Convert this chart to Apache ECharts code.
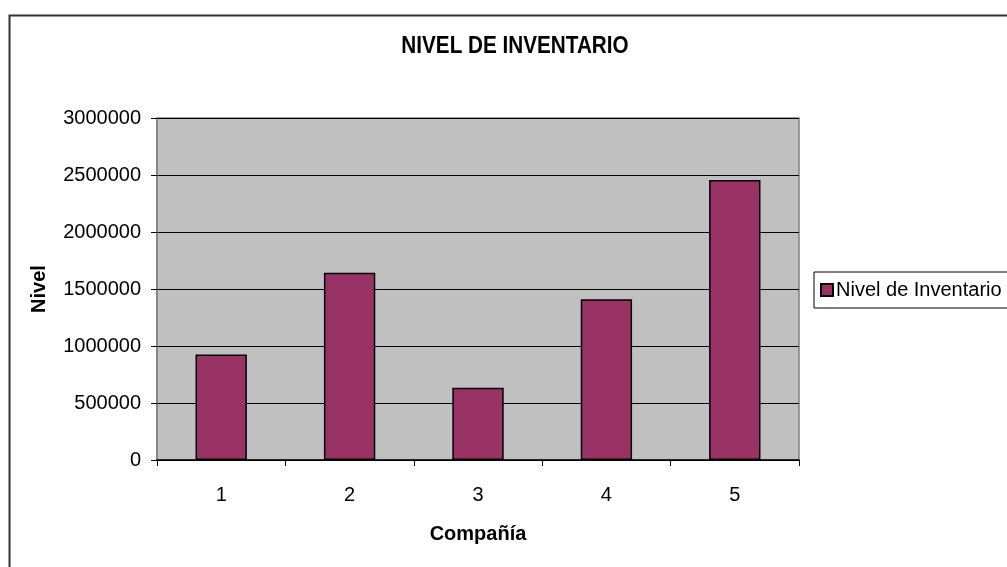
<!DOCTYPE html>
<html>
<head>
<meta charset="utf-8">
<script src="https://cdn.jsdelivr.net/npm/echarts@6/dist/echarts.min.js"></script>
<style>
  html, body { margin: 0; padding: 0; background: #ffffff; }
  #chart { width: 1007px; height: 567px; }
</style>
</head>
<body>
<div id="chart"></div>
<script>
// Inventory level per company
const companies = ['1', '2', '3', '4', '5'];
const inventoryLevels = [925000, 1643000, 633000, 1409000, 2457000];
const seriesName = 'Nivel de Inventario';
const chartTitle = 'NIVEL DE INVENTARIO';
const xAxisName = 'Compañía';
const yAxisName = 'Nivel';

const font = '"Liberation Sans", Arial, sans-serif';

const chart = echarts.init(document.getElementById('chart'), null, { renderer: 'canvas' });

chart.setOption({
  backgroundColor: '#ffffff',
  animation: false,
  textStyle: { fontFamily: font, color: '#000' },
  graphic: [
    {
      // outer chart frame
      type: 'rect',
      left: 7, top: 13,
      shape: { width: 1100, height: 700 },
      style: { fill: 'none', stroke: '#333', lineWidth: 2 },
      z: -1
    },
    {
      // chart title, slightly condensed
      type: 'text',
      x: 515, y: 47,
      scaleX: 0.9,
      style: {
        text: chartTitle,
        font: 'bold 23px ' + font,
        fill: '#000',
        align: 'center',
        verticalAlign: 'middle'
      }
    }
  ],
  legend: {
    data: [seriesName],
    left: 814,
    top: 272,
    orient: 'vertical',
    itemWidth: 12,
    itemHeight: 12,
    padding: [8, 40, 8, 6],
    borderColor: '#000',
    borderWidth: 1,
    backgroundColor: '#fff',
    textStyle: { fontFamily: font, fontSize: 20, color: '#000', padding: [0, 0, 0, -2] },
    icon: 'rect'
  },
  grid: {
    left: 157,
    right: 208,
    top: 118,
    bottom: 107,
    show: true,
    backgroundColor: '#c0c0c0',
    borderColor: '#808080',
    borderWidth: 1.5
  },
  xAxis: {
    type: 'category',
    data: companies,
    name: xAxisName,
    nameLocation: 'middle',
    nameGap: 64,
    nameTextStyle: { fontFamily: font, fontSize: 20, fontWeight: 'bold', color: '#000' },
    axisLine: { lineStyle: { color: '#000', width: 1.5 } },
    axisTick: { show: true, length: 6, lineStyle: { color: '#000' } },
    axisLabel: { fontFamily: font, fontSize: 20, color: '#000', margin: 25 },
    splitLine: { show: false }
  },
  yAxis: {
    type: 'value',
    min: 0,
    max: 3000000,
    interval: 500000,
    name: yAxisName,
    nameLocation: 'middle',
    nameGap: 108,
    nameRotate: 90,
    nameTextStyle: { fontFamily: font, fontSize: 20, fontWeight: 'bold', color: '#000' },
    axisLine: { show: true, lineStyle: { color: '#808080', width: 1.5 } },
    axisTick: { show: true, length: 6, lineStyle: { color: '#000' } },
    axisLabel: {
      fontFamily: font, fontSize: 20, color: '#000', margin: 16,
      formatter: function (v) { return String(v); }
    },
    splitLine: { show: true, lineStyle: { color: '#000', width: 1 } }
  },
  series: [
    {
      name: seriesName,
      type: 'bar',
      data: inventoryLevels,
      barWidth: '40%',
      itemStyle: { color: '#993366', borderColor: '#000', borderWidth: 1.5 }
    }
  ]
});
</script>
</body>
</html>
